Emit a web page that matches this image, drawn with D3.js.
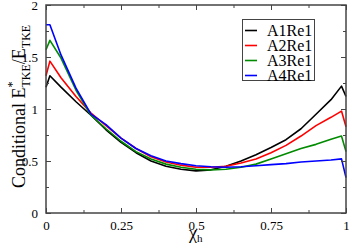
<!DOCTYPE html>
<html><head><meta charset="utf-8">
<script src="https://cdn.jsdelivr.net/npm/d3@7"></script>
<style>
html,body{margin:0;padding:0;background:#fff;}
svg{display:block;}
svg text{font-family:"Liberation Serif","Times New Roman",Times,serif !important;fill:#000;}
</style></head>
<body><svg id="c" width="349" height="245"></svg>
<script>
const xs      = [0, 0.013, 0.05, 0.1, 0.15, 0.2, 0.25, 0.3, 0.35, 0.4, 0.45, 0.5, 0.55, 0.6, 0.65, 0.7, 0.75, 0.8, 0.85, 0.9, 0.95, 0.985, 1];
const a1Re1   = [1.21, 1.32, 1.21, 1.07, 0.94, 0.80, 0.68, 0.58, 0.50, 0.45, 0.42, 0.405, 0.415, 0.45, 0.50, 0.56, 0.63, 0.705, 0.81, 0.95, 1.09, 1.22, 1.12];
const a2Re1   = [1.32, 1.46, 1.30, 1.12, 0.96, 0.84, 0.72, 0.62, 0.54, 0.49, 0.46, 0.44, 0.44, 0.45, 0.48, 0.52, 0.58, 0.65, 0.74, 0.84, 0.92, 0.98, 0.83];
const a3Re1   = [1.57, 1.66, 1.49, 1.18, 0.94, 0.81, 0.69, 0.59, 0.52, 0.47, 0.44, 0.42, 0.415, 0.42, 0.44, 0.47, 0.52, 0.57, 0.62, 0.66, 0.71, 0.74, 0.59];
const a4Re1   = [1.81, 1.81, 1.52, 1.20, 0.95, 0.85, 0.72, 0.62, 0.55, 0.50, 0.475, 0.455, 0.445, 0.44, 0.445, 0.455, 0.465, 0.475, 0.49, 0.50, 0.51, 0.52, 0.34];
const seriesNames = ["A1Re1", "A2Re1", "A3Re1", "A4Re1"];
const seriesColors = ["#000000", "#ff0000", "#008b00", "#0000ff"];
const xMajor = [0, 0.25, 0.5, 0.75, 1];
const xMajorLabels = ["0", "0.25", "0.5", "0.75", "1"];
const xMinor = [0.125, 0.375, 0.625, 0.875];
const yMajor = [0, 0.5, 1, 1.5, 2];
const yMajorLabels = ["0", "0.5", "1", "1.5", "2"];
const yMinor = [0.25, 0.75, 1.25, 1.75];

const series = [a1Re1, a2Re1, a3Re1, a4Re1];
const svg = d3.select("#c");
const FONT = "Liberation Serif";
const L = 46, R = 346, T = 5, B = 213;
const x = d3.scaleLinear().domain([0, 1]).range([L, R]);
const y = d3.scaleLinear().domain([0, 2]).range([B, T]);
const axisColor = "#444";

// curves
const line = d3.line().x((d, i) => x(xs[i])).y(d => y(d));
series.forEach((s, k) => {
  svg.append("path").datum(s).attr("d", line)
    .attr("fill", "none").attr("stroke", seriesColors[k])
    .attr("stroke-width", 1.6).attr("stroke-linejoin", "round");
});

function styleAxis(g){
  g.attr("font-family", FONT);
  g.select(".domain").remove();
  g.selectAll(".tick line").attr("stroke", axisColor).attr("stroke-width", 1);
}
// bottom
svg.append("g").attr("transform", `translate(0,${B})`)
  .call(d3.axisBottom(x).tickValues(xMajor).tickSize(-5).tickPadding(8)
    .tickFormat((d, i) => xMajorLabels[i]))
  .call(styleAxis)
  .call(g => g.selectAll("text").attr("font-size", 13));
svg.append("g").attr("transform", `translate(0,${B})`)
  .call(d3.axisBottom(x).tickValues(xMinor).tickSize(-3).tickFormat(""))
  .call(styleAxis);
// top
svg.append("g").attr("transform", `translate(0,${T})`)
  .call(d3.axisTop(x).tickValues(xMajor).tickSize(-5).tickFormat("")).call(styleAxis);
svg.append("g").attr("transform", `translate(0,${T})`)
  .call(d3.axisTop(x).tickValues(xMinor).tickSize(-3).tickFormat("")).call(styleAxis);
// left
svg.append("g").attr("transform", `translate(${L},0)`)
  .call(d3.axisLeft(y).tickValues(yMajor).tickSize(-5).tickPadding(8)
    .tickFormat((d, i) => yMajorLabels[i]))
  .call(styleAxis)
  .call(g => g.selectAll("text").attr("font-size", 13));
svg.append("g").attr("transform", `translate(${L},0)`)
  .call(d3.axisLeft(y).tickValues(yMinor).tickSize(-3).tickFormat("")).call(styleAxis);
// right
svg.append("g").attr("transform", `translate(${R},0)`)
  .call(d3.axisRight(y).tickValues(yMajor).tickSize(-5).tickFormat("")).call(styleAxis);
svg.append("g").attr("transform", `translate(${R},0)`)
  .call(d3.axisRight(y).tickValues(yMinor).tickSize(-3).tickFormat("")).call(styleAxis);

// frame
svg.append("rect").attr("x", L).attr("y", T).attr("width", R - L).attr("height", B - T)
  .attr("fill", "none").attr("stroke", axisColor).attr("stroke-width", 1.5);

// y label
const yl = svg.append("text").attr("transform", "translate(25,188) rotate(-90)")
  .attr("font-family", FONT).attr("font-size", 18);
yl.append("tspan").text("Conditional E");
yl.append("tspan").attr("font-size", 12).attr("dy", -9).text("*");
yl.append("tspan").attr("font-size", 12).attr("dy", 14).attr("dx", -6).text("TKE");
yl.append("tspan").attr("dy", -5).text("/E");
yl.append("tspan").attr("font-size", 12).attr("dy", 5).text("TKE");

// x label
const xl = svg.append("text").attr("x", 189).attr("y", 239).attr("font-family", FONT).attr("font-size", 18);
xl.append("tspan").text("χ");
xl.append("tspan").attr("font-size", 11).attr("dy", 3).text("h");

// legend
const lg = svg.append("g").attr("font-family", FONT);
lg.append("rect").attr("x", 242.5).attr("y", 19.5).attr("width", 72).attr("height", 61)
  .attr("fill", "#fff").attr("stroke", axisColor).attr("stroke-width", 1);
seriesNames.forEach((n, i) => {
  const yy = 30.5 + i * 15;
  lg.append("line").attr("x1", 245).attr("x2", 257).attr("y1", yy).attr("y2", yy)
    .attr("stroke", seriesColors[i]).attr("stroke-width", 1.6);
  lg.append("text").attr("x", 267).attr("y", yy + 5.5).attr("font-size", 16).text(n);
});
</script></body></html>
